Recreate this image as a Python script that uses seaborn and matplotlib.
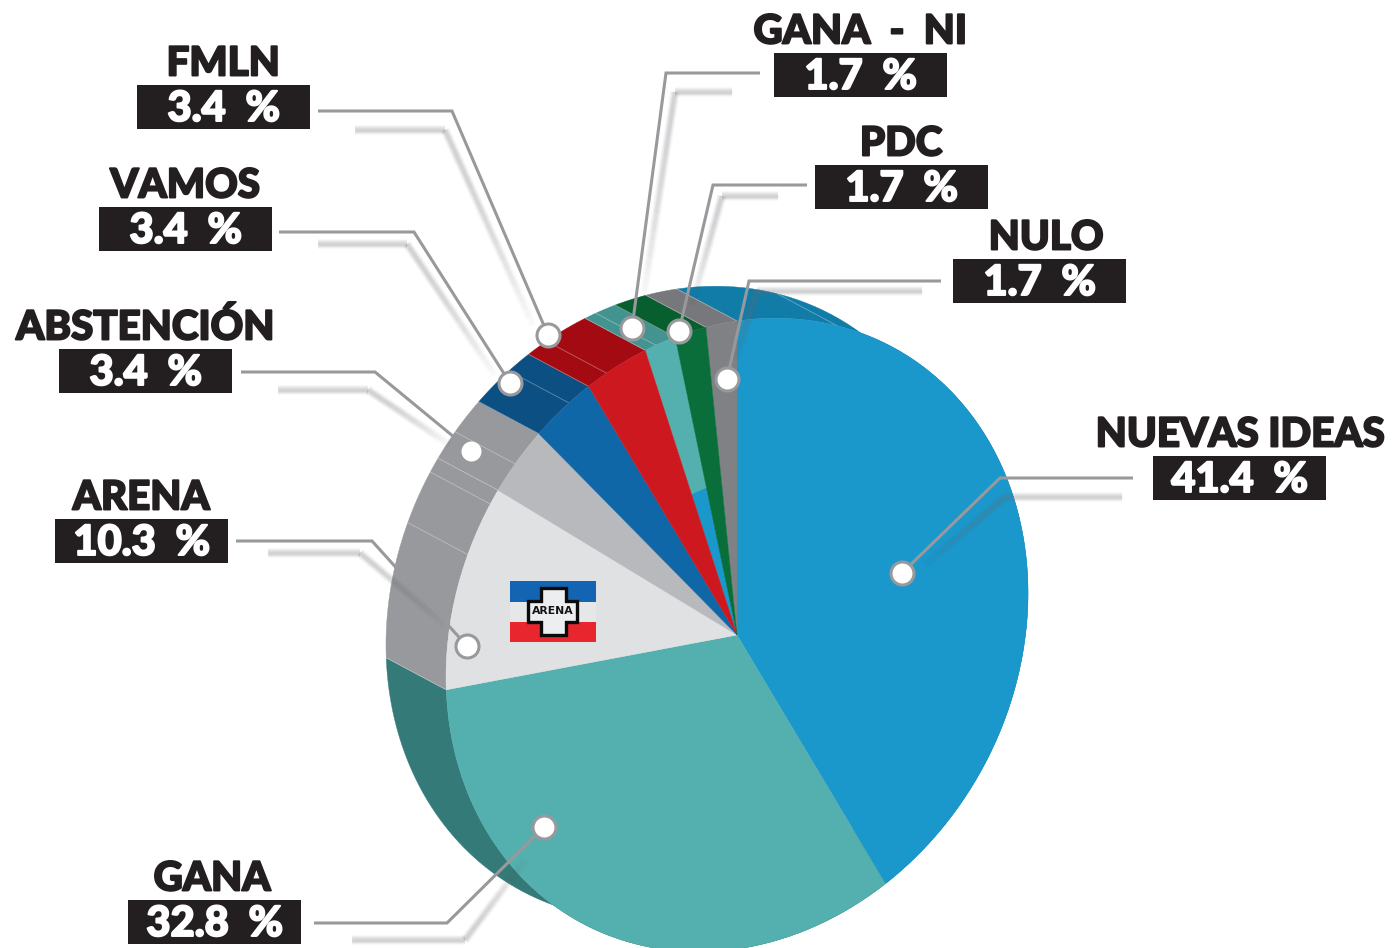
import numpy as np
import pandas as pd
import matplotlib
matplotlib.use("Agg")
import matplotlib.pyplot as plt
import matplotlib.patheffects as pe
from matplotlib.patches import Rectangle, Wedge
from matplotlib.transforms import Affine2D
import seaborn as sns

# ---- data ----
parties = ["NUEVAS IDEAS", "GANA", "ARENA", "ABSTENCIÓN", "VAMOS", "FMLN", "GANA - NI", "PDC", "NULO"]
shares = [41.4, 32.8, 10.3, 3.4, 3.4, 3.4, 1.7, 1.7, 1.7]
value_labels = ["41.4 %", "32.8 %", "10.3 %", "3.4 %", "3.4 %", "3.4 %", "1.7 %", "1.7 %", "1.7 %"]
face_colors = ["#1A97CB", "#54AFAF", "#E0E1E3", "#B8B9BC", "#0F67A8", "#CD181F", "#54AFAF", "#0A6E3A", "#808184"]
rim_colors = ["#117CA8", "#337A78", "#98999C", "#98999C", "#0B4F83", "#A30A12", "#439390", "#075E2E", "#77787B"]
seam_positions = [5.6, 81.2, 83.9, 86.2, 90.2, 92.6, 95.5]

# ---- layout (pixels of the 1393x948 picture) ----
box_lefts = [1153, 128, 55, 59, 99, 137, 774, 815, 953]
box_tops = [456, 900, 519, 349, 207, 85, 53, 165, 259]
title_centers = [1240, 212, 141, 145, 185, 223, 860, 901, 1046]
leaders = [
    [(1133, 478), (1000, 478), (902, 573)],
    [(314, 923), (447, 923), (544, 827)],
    [(236, 541), (372, 541), (467, 646)],
    [(241, 372), (375, 372), (471, 451)],
    [(279, 232), (414, 232), (510, 383)],
    [(318, 111), (452, 111), (548, 335)],
    [(760, 73), (666, 73), (632, 328)],
    [(807, 185), (713, 185), (679, 331)],
    [(941, 281), (749, 281), (727, 379)],
]
shadows = [
    [(1122, 497), (1005, 497), (925, 565)],
    [(352, 940), (465, 940), (525, 860)],
    [(268, 553), (360, 553), (445, 625)],
    [(278, 390), (368, 390), (450, 445)],
    [(318, 244), (407, 244), (495, 375)],
    [(355, 130), (445, 130), (533, 325)],
    [(732, 92), (675, 92), (643, 300)],
    [(778, 196), (722, 196), (692, 305)],
    [(922, 291), (757, 291), (735, 360)],
]

sns.set_theme(style="white")
plt.rcParams["font.family"] = ["Lato", "DejaVu Sans"]
FONT_W = 900
DARK = "#231F20"
LINE = "#98999C"

fig = plt.figure(figsize=(13.93, 9.48), dpi=100)
ax = fig.add_axes([0, 0, 1, 1])

palette = sns.color_palette(face_colors)
wedges, _ = ax.pie(shares, colors=palette, startangle=90, counterclock=False,
                   normalize=True, wedgeprops=dict(linewidth=0.3))
ax.set_aspect("auto")
ax.set_xlim(0, 1393)
ax.set_ylim(948, 0)
ax.axis("off")

# the tilted disc: unit circle -> picture pixels
M = np.array([[291.0, 0.0, 737.0], [-42.0, -314.0, 635.0], [0, 0, 1]])
disc = Affine2D(M) + ax.transData
SHIFT = np.array([-60.0, -32.0])


def rim_point(pct):
    a = np.radians(np.asarray(pct) * 3.6)
    return np.c_[M[0, 0] * np.sin(a) + M[0, 2],
                 M[1, 0] * np.sin(a) + M[1, 1] * np.cos(a) + M[1, 2]]


total = float(sum(shares))
norm = np.array(shares) / total * 100
edges = np.r_[0, np.cumsum(norm)]

# extruded rim
for lo, hi, col in zip(edges[:-1], edges[1:], rim_colors):
    arc = rim_point(np.linspace(lo, hi, 80))
    poly = np.vstack([arc, (arc + SHIFT)[::-1]])
    ax.fill(poly[:, 0], poly[:, 1], color=col, lw=0.3, zorder=1)
for p in list(edges[:-1]) + seam_positions:
    a = rim_point([p])[0]
    b = a + SHIFT
    ax.plot([a[0], b[0]], [a[1], b[1]], color="white", alpha=0.35, lw=0.6, zorder=1.5)

# front disc
for w, col in zip(wedges, palette):
    w.set_transform(disc)
    w.set_edgecolor(col)
    w.set_zorder(2)

# inner blue part of the GANA - NI slice
i_ni = parties.index("GANA - NI")
inner = Wedge((0, 0), 0.493, 90 - edges[i_ni + 1] * 3.6, 90 - edges[i_ni] * 3.6,
              facecolor="#1A97CB", edgecolor="#1A97CB", lw=0.2, zorder=2.1)
inner.set_transform(disc)
ax.add_patch(inner)
wedges[5].set_zorder(2.2)
wedges[7].set_zorder(2.2)


# ---- ARENA logo ----
def rect(x0, y0, x1, y1, c, z=3):
    ax.add_patch(Rectangle((x0, y0), x1 - x0, y1 - y0, facecolor=c, edgecolor="none", zorder=z))


rect(510, 581, 596, 602, "#1464B4")
rect(510, 602, 596, 622, "#E6E7E9")
rect(510, 622, 596, 642, "#E8262E")
cx = [541, 566, 566, 577, 577, 566, 566, 541, 541, 528, 528, 541, 541]
cy = [588, 588, 601, 601, 622, 622, 635, 635, 622, 622, 601, 601, 588]
ax.fill(cx, cy, facecolor="#EDEEEF", edgecolor="#0B0B0B", lw=2.4, zorder=3.2)
ax.text(553, 611.5, "ARENA", ha="center", va="center", fontsize=7.8, fontweight="bold",
        color="#141414", family="DejaVu Sans", zorder=3.4)


# ---- leader shadows, lines, dots ----
def draw_shadow(pts):
    pts = np.array(pts, float)
    for lw, al in [(7, 0.05), (5.5, 0.07), (4, 0.09), (2.5, 0.12)]:
        ax.plot(pts[:2, 0], pts[:2, 1], color="#6D6E71", lw=lw, alpha=al,
                solid_capstyle="butt", zorder=4)
        n = 24
        ts = np.linspace(0, 1, n + 1)
        for t0, t1 in zip(ts[:-1], ts[1:]):
            fade = 1 - t0 ** 2
            p0 = pts[1] + (pts[2] - pts[1]) * t0
            p1 = pts[1] + (pts[2] - pts[1]) * t1
            ax.plot([p0[0], p1[0]], [p0[1], p1[1]], color="#6D6E71", lw=lw,
                    alpha=al * fade, solid_capstyle="butt", zorder=4)


for s in shadows:
    draw_shadow(s)

for i, pts in enumerate(leaders):
    pts = np.array(pts)
    ax.plot(pts[:, 0], pts[:, 1], color=LINE, lw=2.2, solid_joinstyle="miter",
            solid_capstyle="butt", zorder=5)
    ringed = parties[i] != "ABSTENCIÓN"
    ax.scatter([pts[-1, 0]], [pts[-1, 1]], s=(23 * 0.72) ** 2 if ringed else (20 * 0.72) ** 2,
               facecolor="white", edgecolor=LINE if ringed else "white",
               linewidth=2.2 if ringed else 0, zorder=6)

# ---- labels ----
for name, val, left, top, tc in zip(parties, value_labels, box_lefts, box_tops, title_centers):
    rect(left, top, left + 173, top + 44, DARK, z=7)
    ax.text(tc, top - 9.5, name.replace(" - ", "  -  "), ha="center", va="baseline", fontsize=29,
            fontweight=FONT_W, color=DARK, zorder=8,
            path_effects=[pe.withStroke(linewidth=1.4, foreground=DARK)])
    ax.text(left + 86.5, top + 36, val.replace(" ", "  "), ha="center", va="baseline", fontsize=30,
            fontweight=FONT_W, color="white", zorder=8,
            path_effects=[pe.withStroke(linewidth=1.4, foreground="white")])

fig.savefig("out.png", dpi=100, facecolor="white")
